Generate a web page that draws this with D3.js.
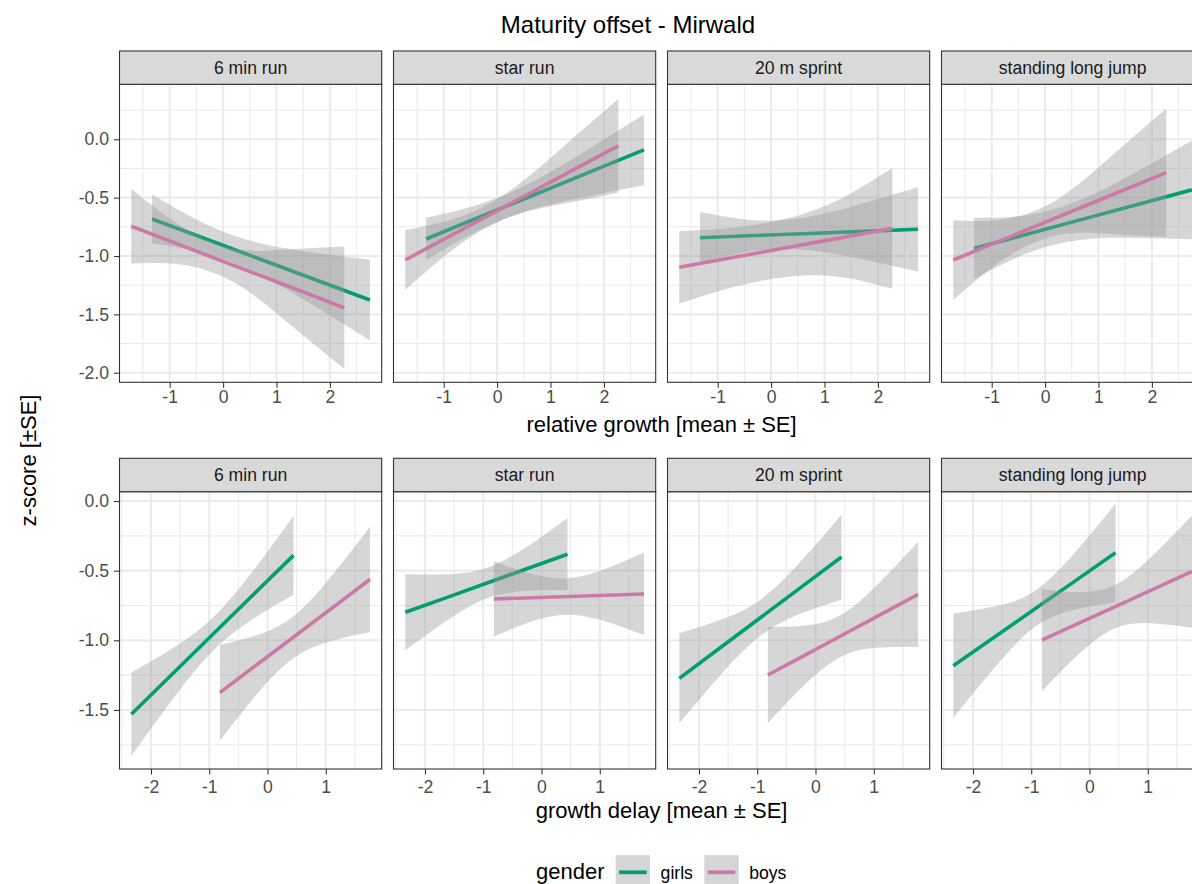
<!DOCTYPE html>
<html>
<head>
<meta charset="utf-8">
<script src="https://cdn.jsdelivr.net/npm/d3@7"></script>
<style>
  body { margin: 0; background: #ffffff; }
  svg { display: block; font-family: "Liberation Sans", Arial, Helvetica, sans-serif; }
</style>
</head>
<body>
<svg id="chart" width="1192" height="884"></svg>
<script>
// ---- data -------------------------------------------------------------
const tests = ["6 min run", "star run", "20 m sprint", "standing long jump"];
const genders = ["girls", "boys"];
const genderColors = ["#009E73", "#CC79A7"];

// relative growth (upper row): x positions of the fitted values
const relGirlsX = [-1.33, -0.31, 0.71, 1.73, 2.75];
const relBoysX  = [-1.72, -0.72, 0.28, 1.27, 2.27];
// fitted z-score and the ±SE band, one list per test
const relGirlsFit = [
  [-0.683, -0.856, -1.030, -1.203, -1.377],
  [-0.854, -0.663, -0.473, -0.282, -0.091],
  [-0.843, -0.825, -0.807, -0.789, -0.771],
  [-0.935, -0.810, -0.684, -0.559, -0.433]
];
const relGirlsLo = [
  [-0.893, -0.982, -1.167, -1.434, -1.722],
  [-1.036, -0.772, -0.593, -0.485, -0.394],
  [-1.062, -0.956, -0.950, -1.030, -1.132],
  [-1.196, -0.972, -0.859, -0.845, -0.856]
];
const relGirlsHi = [
  [-0.473, -0.730, -0.893, -0.972, -1.032],
  [-0.672, -0.554, -0.353, -0.079,  0.212],
  [-0.624, -0.694, -0.664, -0.548, -0.410],
  [-0.674, -0.648, -0.509, -0.273, -0.010]
];
const relBoysFit = [
  [-0.745, -0.920, -1.095, -1.268, -1.443],
  [-1.034, -0.789, -0.544, -0.301, -0.056],
  [-1.097, -1.013, -0.930, -0.847, -0.763],
  [-1.034, -0.847, -0.659, -0.473, -0.286]
];
const relBoysLo = [
  [-1.065, -1.078, -1.247, -1.594, -1.968],
  [-1.290, -0.909, -0.660, -0.550, -0.456],
  [-1.407, -1.268, -1.180, -1.177, -1.280],
  [-1.374, -1.012, -0.818, -0.813, -0.835]
];
const relBoysHi = [
  [-0.425, -0.762, -0.943, -0.942, -0.918],
  [-0.778, -0.669, -0.428, -0.052,  0.344],
  [-0.787, -0.758, -0.680, -0.517, -0.246],
  [-0.694, -0.682, -0.500, -0.133,  0.263]
];

// growth delay (lower row)
const delayGirlsX = [-2.337, -1.641, -0.946, -0.250, 0.446];
const delayBoysX  = [-0.817, -0.173, 0.472, 1.116, 1.76];
const delayGirlsFit = [
  [-1.531, -1.246, -0.960, -0.675, -0.390],
  [-0.799, -0.695, -0.590, -0.486, -0.382],
  [-1.273, -1.055, -0.838, -0.620, -0.402],
  [-1.182, -0.980, -0.777, -0.575, -0.372]
];
const delayGirlsLo = [
  [-1.830, -1.431, -1.080, -0.847, -0.673],
  [-1.072, -0.864, -0.700, -0.644, -0.640],
  [-1.596, -1.255, -0.968, -0.807, -0.708],
  [-1.556, -1.203, -0.907, -0.780, -0.725]
];
const delayGirlsHi = [
  [-1.232, -1.061, -0.840, -0.503, -0.107],
  [-0.526, -0.526, -0.480, -0.328, -0.124],
  [-0.950, -0.855, -0.708, -0.433, -0.096],
  [-0.808, -0.757, -0.647, -0.370, -0.019]
];
const delayBoysFit = [
  [-1.376, -1.172, -0.969, -0.766, -0.562],
  [-0.703, -0.694, -0.685, -0.676, -0.667],
  [-1.249, -1.104, -0.960, -0.815, -0.670],
  [-0.998, -0.875, -0.752, -0.629, -0.506]
];
const delayBoysLo = [
  [-1.721, -1.382, -1.120, -1.003, -0.940],
  [-0.973, -0.865, -0.816, -0.867, -0.962],
  [-1.594, -1.314, -1.111, -1.052, -1.048],
  [-1.365, -1.095, -0.908, -0.879, -0.909]
];
const delayBoysHi = [
  [-1.031, -0.962, -0.818, -0.529, -0.184],
  [-0.433, -0.523, -0.554, -0.485, -0.372],
  [-0.904, -0.894, -0.809, -0.578, -0.292],
  [-0.631, -0.655, -0.596, -0.379, -0.103]
];

// axis ticks
const relXTicks = [-1, 0, 1, 2];
const relYTicks = [0.0, -0.5, -1.0, -1.5, -2.0];
const delayXTicks = [-2, -1, 0, 1];
const delayYTicks = [0.0, -0.5, -1.0, -1.5];

// ---- layout -----------------------------------------------------------
const svg = d3.select("#chart");
const defs = svg.append("defs");
svg.append("rect").attr("width", 1192).attr("height", 884).attr("fill", "#ffffff");

const L = { panelLeft: 119.5, panelWidth: 262.2, panelStep: 274 };
const tickFont = 17.6, stripFont = 17.6, titleFont = 22;

const rows = [
  {
    title: "relative growth [mean ± SE]",
    series: [
      { xs: relGirlsX, fit: relGirlsFit, lo: relGirlsLo, hi: relGirlsHi },
      { xs: relBoysX,  fit: relBoysFit,  lo: relBoysLo,  hi: relBoysHi }
    ],
    xDomain: [-1.94, 2.97], yDomain: [-2.082, 0.471],
    xTicks: relXTicks, yTicks: relYTicks,
    stripTop: 51, panelTop: 84.3, panelBottom: 382.3,
    tickBaseline: 403, titleBaseline: 432
  },
  {
    title: "growth delay [mean ± SE]",
    series: [
      { xs: delayGirlsX, fit: delayGirlsFit, lo: delayGirlsLo, hi: delayGirlsHi },
      { xs: delayBoysX,  fit: delayBoysFit,  lo: delayBoysLo,  hi: delayBoysHi }
    ],
    xDomain: [-2.54, 1.96], yDomain: [-1.924, 0.067],
    xTicks: delayXTicks, yTicks: delayYTicks,
    stripTop: 458.3, panelTop: 491.7, panelBottom: 769,
    tickBaseline: 792.5, titleBaseline: 818
  }
];

// minor breaks halfway between majors, plus one step beyond each end
function minorBreaks(ticks, domain) {
  const s = ticks.slice().sort((a, b) => a - b);
  const step = s[1] - s[0];
  const out = [];
  for (let v = s[0] - step / 2; v <= s[s.length - 1] + step / 2 + 1e-9; v += step) {
    if (v >= domain[0] && v <= domain[1]) out.push(v);
  }
  return out;
}

rows.forEach((row, ri) => {
  tests.forEach((test, ti) => {
    const left = L.panelLeft + ti * L.panelStep;
    const right = left + L.panelWidth;
    const x = d3.scaleLinear().domain(row.xDomain).range([left, right]);
    const y = d3.scaleLinear().domain(row.yDomain).range([row.panelBottom, row.panelTop]);
    const g = svg.append("g").attr("class", "panel");

    const clipId = `clip-${ri}-${ti}`;
    defs.append("clipPath").attr("id", clipId)
      .append("rect")
      .attr("x", left).attr("y", row.panelTop)
      .attr("width", L.panelWidth).attr("height", row.panelBottom - row.panelTop);

    g.append("rect")
      .attr("x", left).attr("y", row.panelTop)
      .attr("width", L.panelWidth).attr("height", row.panelBottom - row.panelTop)
      .attr("fill", "#ffffff");

    const grid = g.append("g").attr("clip-path", `url(#${clipId})`);
    // minor grid
    minorBreaks(row.xTicks, row.xDomain).forEach(v => {
      grid.append("line").attr("x1", x(v)).attr("x2", x(v))
        .attr("y1", row.panelTop).attr("y2", row.panelBottom)
        .attr("stroke", "#ebebeb").attr("stroke-width", 1.07);
    });
    minorBreaks(row.yTicks, row.yDomain).forEach(v => {
      grid.append("line").attr("y1", y(v)).attr("y2", y(v))
        .attr("x1", left).attr("x2", right)
        .attr("stroke", "#ebebeb").attr("stroke-width", 1.07);
    });
    // major grid
    row.xTicks.forEach(v => {
      grid.append("line").attr("x1", x(v)).attr("x2", x(v))
        .attr("y1", row.panelTop).attr("y2", row.panelBottom)
        .attr("stroke", "#ebebeb").attr("stroke-width", 2.13);
    });
    row.yTicks.forEach(v => {
      grid.append("line").attr("y1", y(v)).attr("y2", y(v))
        .attr("x1", left).attr("x2", right)
        .attr("stroke", "#ebebeb").attr("stroke-width", 2.13);
    });

    // smoothers: band then line, girls first, boys on top
    const area = d3.area()
      .x(d => x(d.x)).y0(d => y(d.lo)).y1(d => y(d.hi))
      .curve(d3.curveNatural);
    const line = d3.line().x(d => x(d.x)).y(d => y(d.f));
    const marks = g.append("g").attr("clip-path", `url(#${clipId})`);
    row.series.forEach((s, gi) => {
      const pts = s.xs.map((xv, i) => ({ x: xv, f: s.fit[ti][i], lo: s.lo[ti][i], hi: s.hi[ti][i] }));
      marks.append("path").datum(pts)
        .attr("d", area)
        .attr("fill", "#999999").attr("fill-opacity", 0.4);
      marks.append("path").datum(pts)
        .attr("d", line)
        .attr("fill", "none")
        .attr("stroke", genderColors[gi])
        .attr("stroke-width", 3.6);
    });

    // panel border
    g.append("rect")
      .attr("x", left).attr("y", row.panelTop)
      .attr("width", L.panelWidth).attr("height", row.panelBottom - row.panelTop)
      .attr("fill", "none").attr("stroke", "#333333").attr("stroke-width", 1.1);

    // strip
    g.append("rect")
      .attr("x", left).attr("y", row.stripTop)
      .attr("width", L.panelWidth).attr("height", row.panelTop - row.stripTop)
      .attr("fill", "#d9d9d9").attr("stroke", "#333333").attr("stroke-width", 1.1);
    g.append("text")
      .attr("x", (left + right) / 2)
      .attr("y", (row.stripTop + row.panelTop) / 2 + stripFont * 0.36)
      .attr("text-anchor", "middle")
      .attr("font-size", stripFont)
      .attr("fill", "#1a1a1a")
      .text(test);

    // x axis
    const xAxis = g.append("g")
      .attr("transform", `translate(0,${row.panelBottom})`)
      .call(d3.axisBottom(x).tickValues(row.xTicks).tickFormat(d => String(d))
        .tickSize(5.5).tickSizeOuter(0));
    xAxis.select(".domain").remove();
    xAxis.selectAll(".tick line").attr("stroke", "#333333").attr("stroke-width", 1.07);
    xAxis.selectAll(".tick text")
      .attr("y", row.tickBaseline - row.panelBottom).attr("dy", null)
      .attr("font-size", tickFont).attr("fill", "#4d4d4d")
      .attr("font-family", null);

    // y axis on the first panel only
    if (ti === 0) {
      const yAxis = g.append("g")
        .attr("transform", `translate(${left},0)`)
        .call(d3.axisLeft(y).tickValues(row.yTicks).tickFormat(d => d.toFixed(1))
          .tickSize(5.5).tickPadding(5).tickSizeOuter(0));
      yAxis.select(".domain").remove();
      yAxis.selectAll(".tick line").attr("stroke", "#333333").attr("stroke-width", 1.07);
      yAxis.selectAll(".tick text")
        .attr("font-size", tickFont).attr("fill", "#4d4d4d")
        .attr("font-family", null);
    }
  });

  // x axis title, centred over the panel block
  const blockLeft = L.panelLeft;
  const blockRight = L.panelLeft + 3 * L.panelStep + L.panelWidth;
  svg.append("text")
    .attr("x", (blockLeft + blockRight) / 2)
    .attr("y", row.titleBaseline)
    .attr("text-anchor", "middle")
    .attr("font-size", titleFont)
    .attr("fill", "#000000")
    .text(row.title);
});

// overall title
svg.append("text")
  .attr("x", 628).attr("y", 33)
  .attr("text-anchor", "middle")
  .attr("font-size", 24)
  .attr("fill", "#000000")
  .text("Maturity offset - Mirwald");

// shared y title
svg.append("text")
  .attr("transform", "translate(36,460.5) rotate(-90)")
  .attr("text-anchor", "middle")
  .attr("font-size", 22)
  .attr("fill", "#000000")
  .text("z-score [±SE]");

// legend
const legend = svg.append("g").attr("class", "legend");
legend.append("text")
  .attr("x", 536).attr("y", 878.5)
  .attr("font-size", 22).attr("fill", "#000000")
  .text("gender");
const keyX = [615.7, 704.3];
const keySize = 34.4;
genders.forEach((gname, gi) => {
  const kx = keyX[gi];
  legend.append("rect")
    .attr("x", kx).attr("y", 872.3 - keySize / 2)
    .attr("width", keySize).attr("height", keySize)
    .attr("fill", "#999999").attr("fill-opacity", 0.4);
  legend.append("line")
    .attr("x1", kx + 3.4).attr("x2", kx + keySize - 3.4)
    .attr("y1", 872.3).attr("y2", 872.3)
    .attr("stroke", genderColors[gi]).attr("stroke-width", 3.8);
  legend.append("text")
    .attr("x", kx + keySize + 10.5).attr("y", 878.5)
    .attr("font-size", 17.6).attr("fill", "#000000")
    .text(gname);
});
</script>
</body>
</html>
